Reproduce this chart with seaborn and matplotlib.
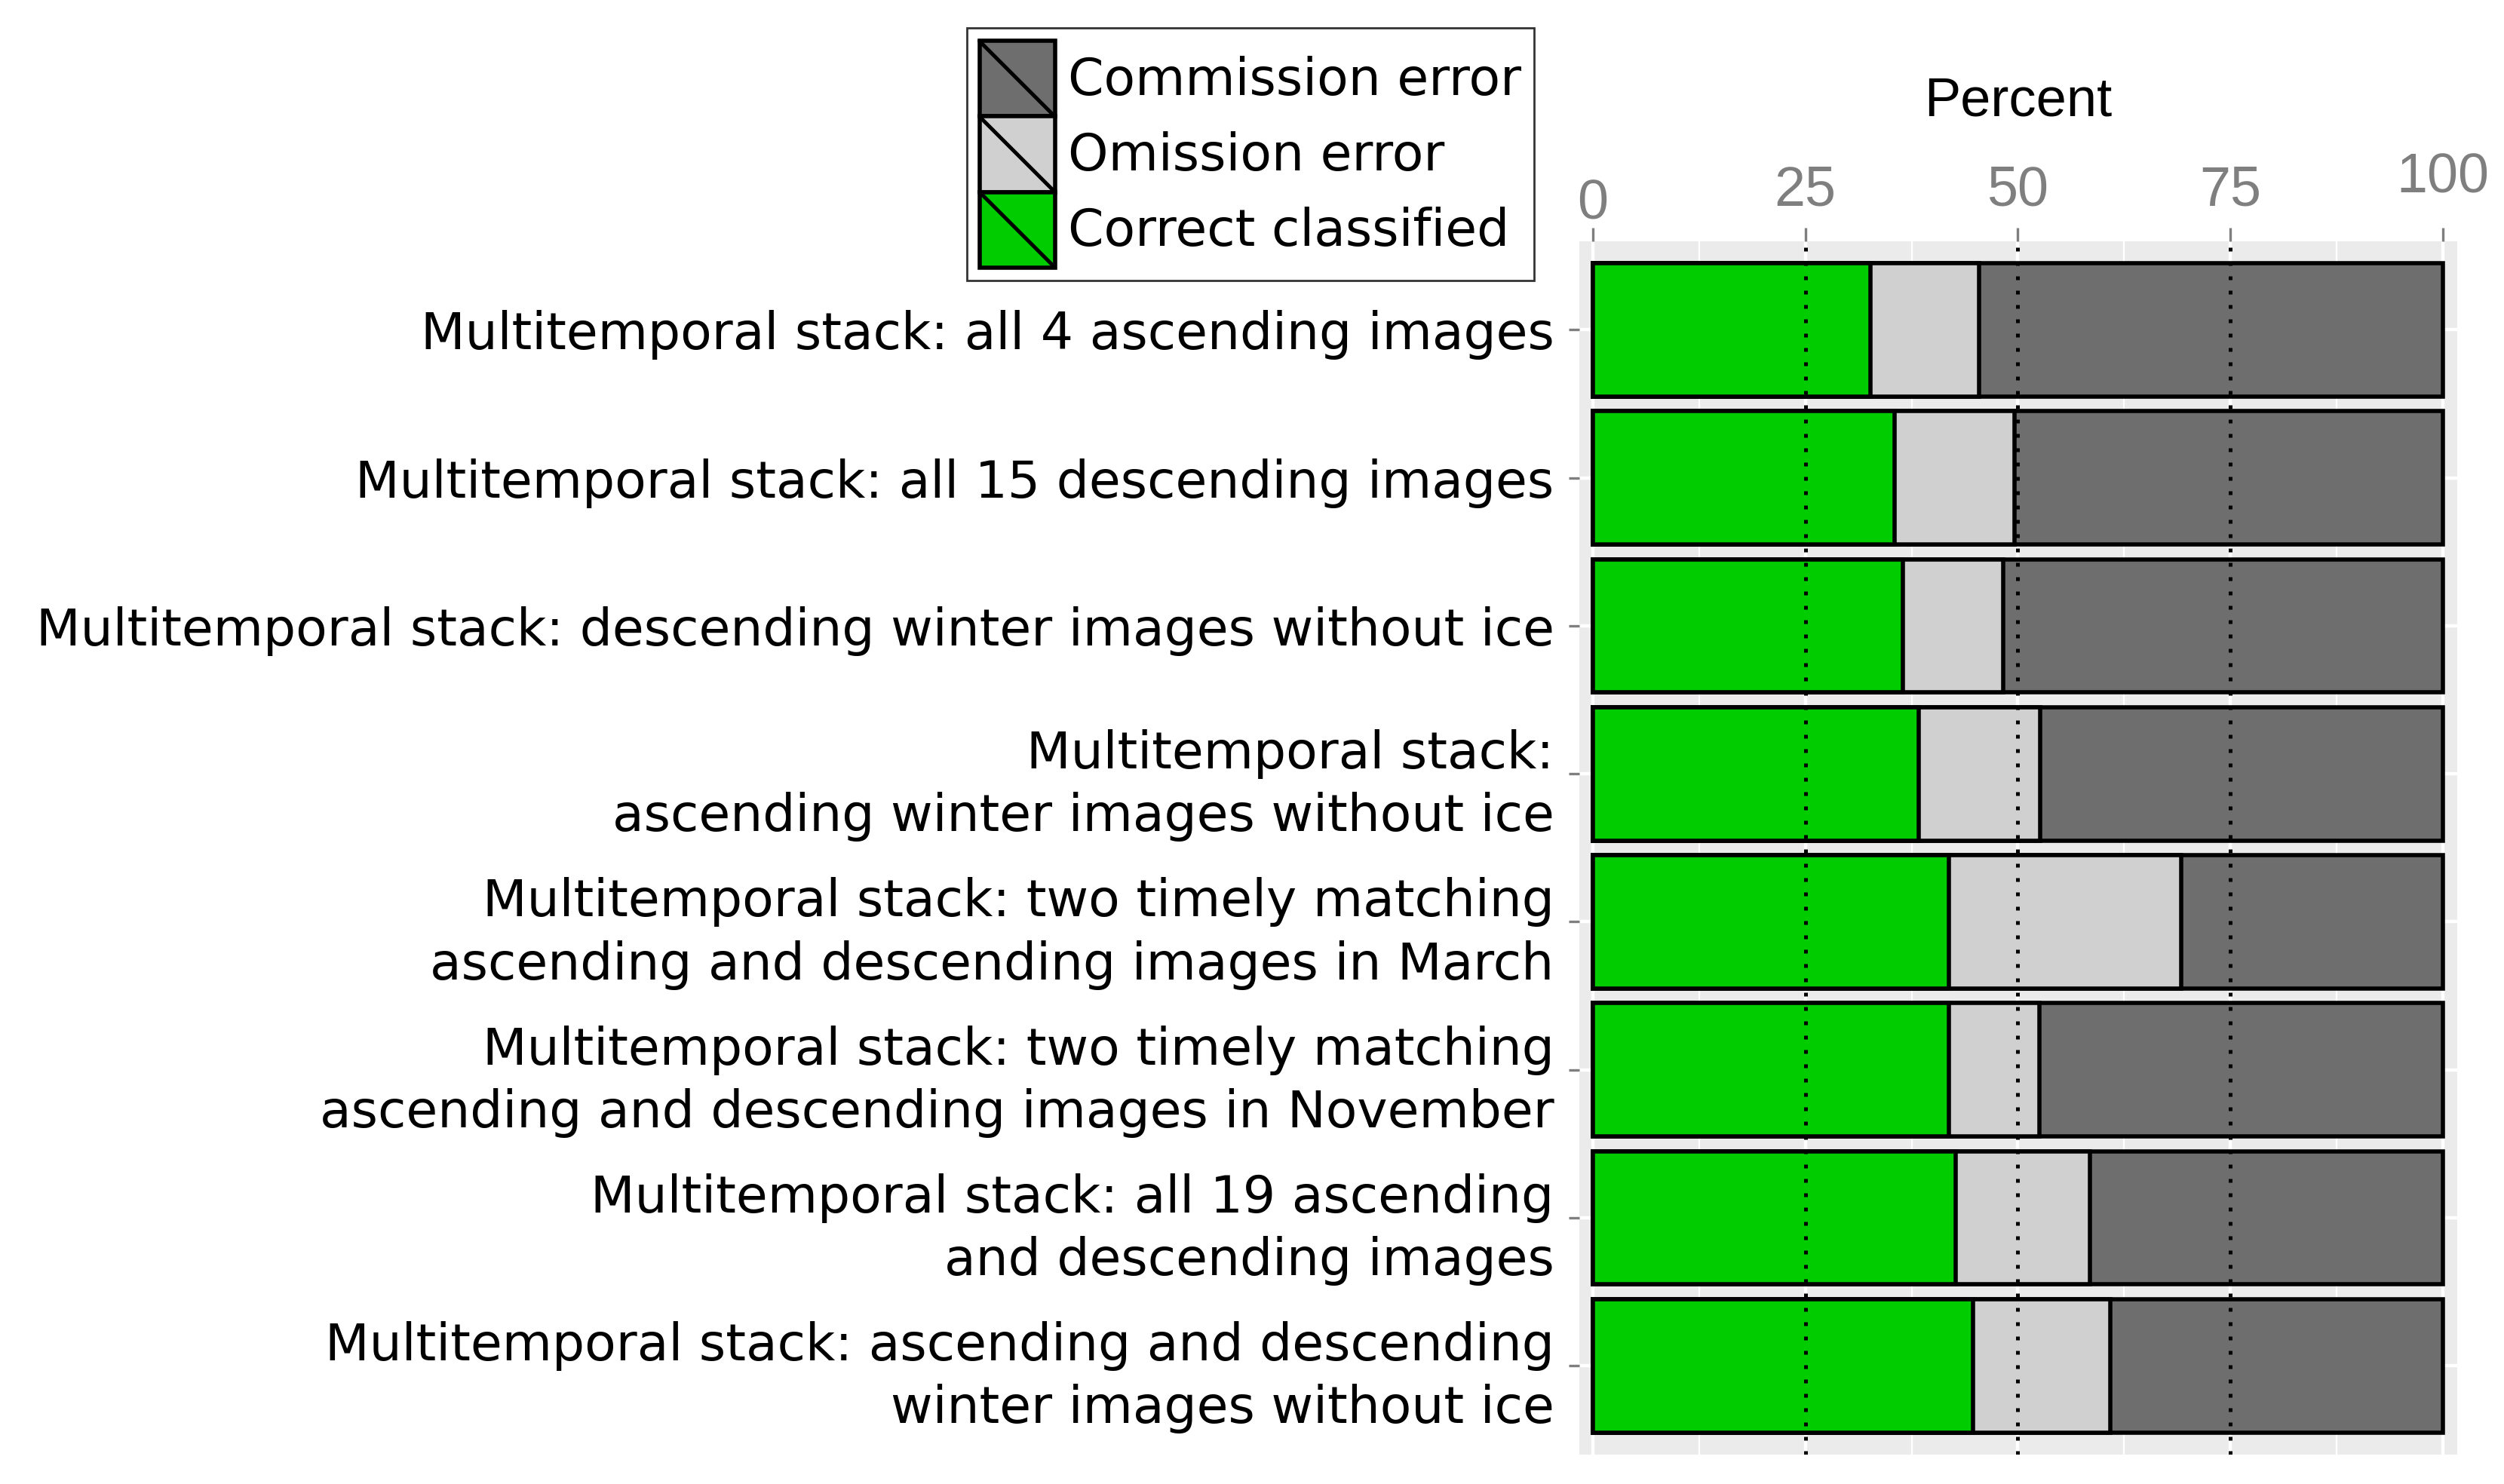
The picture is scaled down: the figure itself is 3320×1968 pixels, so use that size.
import pandas as pd
import matplotlib
matplotlib.use('Agg')
import matplotlib.pyplot as plt
import seaborn as sns
from matplotlib.patches import Patch, Rectangle
from matplotlib.lines import Line2D
from matplotlib.legend_handler import HandlerBase

# Données (pourcentages)
labels = [
    "Multitemporal stack: all 4 ascending images",
    "Multitemporal stack: all 15 descending images",
    "Multitemporal stack: descending winter images without ice",
    "Multitemporal stack:\nascending winter images without ice",
    "Multitemporal stack: two timely matching\nascending and descending images in March",
    "Multitemporal stack: two timely matching\nascending and descending images in November",
    "Multitemporal stack: all 19 ascending\nand descending images",
    "Multitemporal stack: ascending and descending\nwinter images without ice",
]
correct = [32.7, 35.5, 36.5, 38.3, 41.9, 41.9, 42.7, 44.7]
omission = [12.7, 14.1, 11.8, 14.3, 27.3, 10.6, 15.8, 16.2]
commission = [100 - c - o for c, o in zip(correct, omission)]

legend_labels = ['Commission error', 'Omission error', 'Correct classified']
col_commission = '#6E6E6E'
col_omission = '#D0D0D0'
col_correct = '#00CC00'

df = pd.DataFrame({'label': labels, 'correct': correct,
                   'omission': omission, 'commission': commission})
df['cum_omission'] = df['correct'] + df['omission']
df['cum_total'] = df['cum_omission'] + df['commission']

sns.set_style('darkgrid', {'axes.facecolor': '#EBEBEB', 'grid.color': 'white'})
plt.rcParams['font.family'] = ['DejaVu Sans']
plt.rcParams['text.color'] = 'black'

fig, ax = plt.subplots(figsize=(16.6, 9.84), dpi=200)
fig.subplots_adjust(left=0.6307, right=0.9813, top=0.8376, bottom=0.0198)

# Barres empilées : total, puis correct+omission, puis correct
for col, c in [('cum_total', col_commission), ('cum_omission', col_omission), ('correct', col_correct)]:
    sns.barplot(data=df, x=col, y='label', order=labels, color=c, saturation=1,
                width=0.9, edgecolor='black', linewidth=2.0, errorbar=None,
                orient='h', ax=ax, zorder=2)

for v in [25, 50, 75]:
    ax.axvline(v, color='black', lw=1.8, ls=(0, (1, 2.8)), zorder=5)

ax.set_xlim(-1.6, 101.7)
ax.set_ylim(7.6, -0.6)
ax.set_axisbelow(True)
ax.set_xticks([0, 25, 50, 75, 100])
ax.set_xticks([12.5, 37.5, 62.5, 87.5], minor=True)
ax.grid(which='major', color='white', lw=1.6)
ax.grid(which='minor', axis='x', color='white', lw=0.8)
for s in ax.spines.values():
    s.set_visible(False)

ax.xaxis.tick_top()
ax.xaxis.set_label_position('top')
ax.tick_params(axis='x', which='major', top=True, bottom=False, labeltop=True, labelbottom=False,
               length=6.5, width=1.2, color='#7F7F7F', labelcolor='#7F7F7F')
ax.tick_params(axis='x', which='minor', length=0)
ax.tick_params(axis='y', left=True, length=5, width=1.2, color='#7F7F7F', pad=7,
               labelsize=24.5, labelcolor='black')
for lab in ax.get_xticklabels():
    lab.set_fontsize(26.5)
    lab.set_family('Liberation Sans')
for tick, p in zip(ax.xaxis.get_major_ticks(), [-1.5, 5, 5, 5, 11]):
    tick.set_pad(p)
for lab in ax.get_yticklabels():
    lab.set_linespacing(1.33)

ax.set_ylabel('')
ax.set_xlabel('Percent', fontsize=26, family='Liberation Sans', color='black', va='center')
ax.xaxis.set_label_coords(0.5, 1.115)


class DiagKey(HandlerBase):
    def create_artists(self, legend, orig_handle, xdescent, ydescent, width, height, fontsize, trans):
        r = Rectangle((-xdescent, -ydescent), width, height, facecolor=orig_handle.get_facecolor(),
                      edgecolor='black', lw=2.0, transform=trans)
        l = Line2D([-xdescent, -xdescent + width], [-ydescent + height, -ydescent],
                   color='black', lw=1.8, transform=trans)
        return [r, l]


handles = [Patch(facecolor=col_commission), Patch(facecolor=col_omission), Patch(facecolor=col_correct)]
leg = fig.legend(handles, legend_labels, handler_map={Patch: DiagKey()}, loc='upper left',
                 bbox_to_anchor=(0.386, 0.981), borderaxespad=0, fontsize=24.5,
                 handlelength=1.47, handleheight=1.885, labelspacing=0, handletextpad=0.25,
                 borderpad=0.25, fancybox=False, framealpha=1, facecolor='white',
                 edgecolor='#333333', labelcolor='black')
leg.get_frame().set_linewidth(1.0)

plt.savefig('out.png')
plt.close()
